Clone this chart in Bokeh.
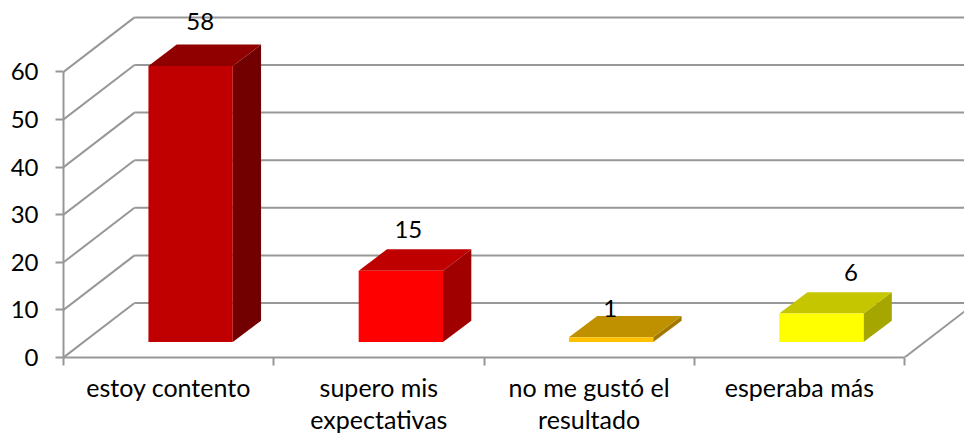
from bokeh.plotting import figure
from bokeh.models import FixedTicker, LinearAxis, Range1d
from bokeh.core.properties import value
from bokeh.embed import file_html
from bokeh.resources import INLINE

categories = ["estoy contento", "supero mis\nexpectativas", "no me gustó el\nresultado", "esperaba más"]
values = [58, 15, 1, 6]
y_ticks = [0, 10, 20, 30, 40, 50, 60]
front_colors = ["#C00000", "#FF0000", "#FFC000", "#FFFF00"]
top_colors = ["#900000", "#BF0000", "#BF9000", "#C6C600"]
side_colors = ["#730000", "#A00000", "#A07800", "#A6A600"]
label_dx = [0.05, 0.04, 0.0, 0.145]
label_dy = [9.3, 8.6, 6.1, 8.6]

CAT_W = 210.25
WALL_DX, WALL_DY = 71 / CAT_W, 54.5 / 4.76
BAR_LEFT, BAR_W = 0.404, 0.401
BASE_Y = 15.4 / 4.76
DEPTH_X, DEPTH_Y = 28.3 / CAT_W, 21.4 / 4.76
X_MAX, Y_MAX = 901 / CAT_W, 357 / 4.76
GREY = "#979797"
FONT = "Lato"

p = figure(width=964, height=437, output_backend="svg", toolbar_location=None,
           x_range=Range1d(0, X_MAX), y_range=Range1d(0, Y_MAX),
           min_border_left=63, min_border_right=0, min_border_top=0, min_border_bottom=80,
           x_axis_type=None, y_axis_type=None, outline_line_color=None)
p.xgrid.visible = False
p.ygrid.visible = False

n = len(categories)
p.multi_line([[0, WALL_DX] for _ in y_ticks], [[t, t + WALL_DY] for t in y_ticks], line_color=GREY, line_width=2)
p.multi_line([[WALL_DX, X_MAX] for _ in y_ticks], [[t + WALL_DY] * 2 for t in y_ticks], line_color=GREY, line_width=2)
p.line([n, X_MAX], [0, (X_MAX - n) / WALL_DX * WALL_DY], line_color=GREY, line_width=2)

for i, v in enumerate(values):
    x0, x1 = i + BAR_LEFT, i + BAR_LEFT + BAR_W
    y0, y1 = BASE_Y, BASE_Y + v
    p.patch([x1, x1 + DEPTH_X, x1 + DEPTH_X, x1], [y0, y0 + DEPTH_Y, y1 + DEPTH_Y, y1],
            fill_color=side_colors[i], line_color=None)
    p.patch([x0, x1, x1 + DEPTH_X, x0 + DEPTH_X], [y1, y1, y1 + DEPTH_Y, y1 + DEPTH_Y],
            fill_color=top_colors[i], line_color=None)
    p.patch([x0, x1, x1, x0], [y0, y0, y1, y1], fill_color=front_colors[i], line_color=None)

p.text([i + 0.6 + label_dx[i] for i in range(n)],
       [BASE_Y + v + label_dy[i] for i, v in enumerate(values)],
       text=[str(v) for v in values], text_font=value(FONT), text_font_size="24px",
       text_color="#000000", text_align="center", text_baseline="middle")

xaxis = LinearAxis(ticker=FixedTicker(ticks=[i + 0.5 for i in range(n)], minor_ticks=list(range(n + 1))),
                   major_label_overrides={i + 0.5: c for i, c in enumerate(categories)},
                   bounds=(0, n), axis_line_color=GREY, axis_line_width=2,
                   major_tick_line_color=None, minor_tick_line_color=GREY, minor_tick_line_width=2,
                   major_tick_in=0, major_tick_out=0, minor_tick_in=0, minor_tick_out=8,
                   major_label_standoff=6, major_label_text_font=FONT, major_label_text_font_size="25px",
                   major_label_text_line_height=1.07,
                   major_label_text_color="#000000", major_label_orientation="horizontal")
p.add_layout(xaxis, "below")

yaxis = LinearAxis(ticker=FixedTicker(ticks=y_ticks, minor_ticks=[]), bounds=(0, 60),
                   axis_line_color=GREY, axis_line_width=2, major_tick_line_color=GREY, major_tick_line_width=2,
                   major_tick_in=0, major_tick_out=8, minor_tick_line_color=None,
                   major_label_standoff=17, major_label_text_font=FONT, major_label_text_font_size="24px",
                   major_label_text_color="#000000")
p.add_layout(yaxis, "left")

open("out.html", "w").write(file_html(p, INLINE))
